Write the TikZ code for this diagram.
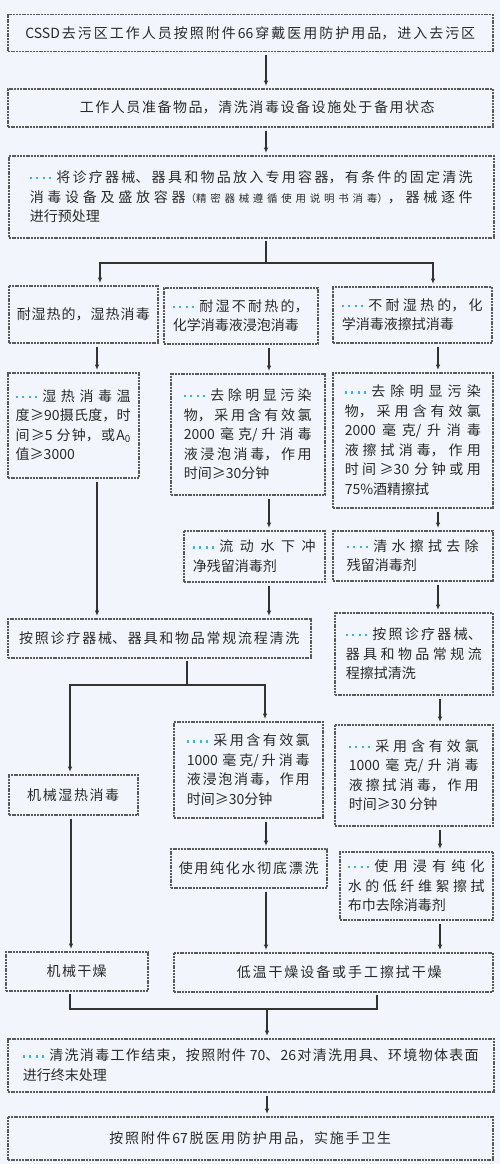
\documentclass[tikz,border=0pt]{standalone}
\usepackage{fontspec}
\setmainfont{Noto Sans CJK SC}
\usetikzlibrary{arrows.meta}
\XeTeXlinebreaklocale "zh"
\XeTeXlinebreakskip=0pt plus 3pt
\tolerance=10000
\hbadness=10000
\definecolor{bgc}{HTML}{F2F6FC}
\definecolor{bordc}{HTML}{5A5A5A}
\definecolor{linec}{HTML}{333333}
\definecolor{txtc}{HTML}{2A2A2A}
\definecolor{dotblue}{HTML}{33B5F0}
\newcommand\onedot{\raisebox{3.3pt}{\rule{2.1pt}{2.1pt}}\hspace{4.3pt}}
\newcommand\bluedots{{\color{dotblue}\onedot\onedot\onedot\onedot}\hspace{1pt}}
\newcommand\smallpar[1]{{\fontsize{10.5}{19.5}\selectfont #1}}
\newcommand\ctext[2]{\parbox{#1pt}{\parfillskip=0pt\relax #2}}
\tikzset{
  box/.style={draw=bordc, line width=1.5pt, dash pattern=on 2pt off 0.8pt,
    text=txtc, inner ysep=2pt,
    font=\fontsize{14}{19.5}\selectfont},
  ln/.style={draw=linec, line width=1.2pt},
  arr/.style={ln, -{Latex[length=5.5pt,width=4.5pt]}, shorten >=2pt},
  arrb/.style={arr, shorten <=3pt}
}
\newcommand\bnode[8]{%
  \pgfmathsetmacro\bxw{#4-#2}\pgfmathsetmacro\bxh{#5-#3}\pgfmathsetmacro\bxt{#4-#2-2*#6}%
  \node[box, anchor=north west, minimum width=\bxw pt, minimum height=\bxh pt,
    inner xsep=#6pt, text width=\bxt pt, align=#7] (#1) at (#2,#3) {#8};}
\begin{document}
\begin{tikzpicture}[x=1pt,y=-1pt]
\fill[bgc] (0,0) rectangle (500,1164);
\useasboundingbox (0,0) rectangle (500,1164);

\bnode{b1}{7}{14}{492}{51}{8}{flush center}{\ctext{450}{CSSD去污区工作人员按照附件66穿戴医用防护用品，进入去污区}}
\bnode{b2}{7}{88}{492}{126}{10}{flush center}{\hspace*{14pt}\ctext{355}{工作人员准备物品，清洗消毒设备设施处于备用状态}}
\bnode{b3}{8}{155}{493}{237}{21}{justify}{\bluedots 将诊疗器械、器具和物品放入专用容器，有条件的固定清洗\linebreak 消毒设备及盛放容器\smallpar{（精密器械遵循使用说明书消毒）}，器械逐件\linebreak 进行预处理}

\bnode{L1}{8}{285}{157}{342}{4}{flush center}{\ctext{133}{耐湿热的，湿热消毒}}
\bnode{M1}{163}{287}{317}{343}{9}{justify}{\bluedots 耐湿不耐热的，\linebreak 化学消毒液浸泡消毒}
\bnode{R1}{332}{286}{491}{342}{9}{justify}{\bluedots 不耐湿热的，化\linebreak 学消毒液擦拭消毒}

\bnode{L2}{7}{372}{138}{477}{8}{justify}{\bluedots 湿热消毒温\linebreak 度≥90摄氏度，时\linebreak 间≥5 分钟，或A\textsubscript{0}\linebreak 值≥3000}
\bnode{M2}{170}{373}{324}{494}{13}{justify}{\bluedots 去除明显污染\linebreak 物，采用含有效氯\linebreak 2000 毫克/升消毒\linebreak 液浸泡消毒，作用\linebreak 时间≥30分钟}
\bnode{R2}{332}{372}{492}{507}{12}{justify}{\bluedots 去除明显污染\linebreak 物，采用含有效氯\linebreak 2000 毫克/升消毒\linebreak 液擦拭消毒，作用\linebreak 时间≥30 分钟或用\linebreak 75\%酒精擦拭}

\bnode{M3}{183}{530}{324}{581}{9}{justify}{\bluedots 流动水下冲\linebreak 净残留消毒剂}
\bnode{R3}{332}{530}{492}{580}{14}{justify}{\bluedots 清水擦拭去除\linebreak 残留消毒剂}

\bnode{C}{7}{618}{310}{657}{6}{flush center}{\ctext{280}{按照诊疗器械、器具和物品常规流程清洗}}
\bnode{R4}{334}{612}{492}{694}{11}{justify}{\bluedots 按照诊疗器械、\linebreak 器具和物品常规流\linebreak 程擦拭清洗}

\bnode{L3}{8}{774}{137}{814}{6}{flush center}{\ctext{92}{机械湿热消毒}}
\bnode{M4}{173}{721}{322}{817}{13}{justify}{\bluedots 采用含有效氯\linebreak 1000 毫克/升消毒\linebreak 液浸泡消毒，作用\linebreak 时间≥30分钟}
\bnode{R5}{334}{724}{492}{825}{14}{justify}{\bluedots 采用含有效氯\linebreak 1000 毫克/升消毒\linebreak 液擦拭消毒，作用\linebreak 时间≥30 分钟}

\bnode{M5}{170}{848}{326}{887}{5}{flush center}{\ctext{140}{使用纯化水彻底漂洗}}
\bnode{R6}{339}{851}{492}{919}{8}{justify}{\bluedots 使用浸有纯化\linebreak 水的低纤维絮擦拭\linebreak 布巾去除消毒剂}

\bnode{L4}{5}{951}{147}{990}{6}{flush center}{\ctext{60}{机械干燥}}
\bnode{M6}{173}{952}{492}{991}{8}{flush center}{\hspace*{12pt}\ctext{205}{低温干燥设备或手工擦拭干燥}}

\bnode{E1}{7}{1038}{493}{1091}{15}{justify}{\bluedots 清洗消毒工作结束，按照附件 70、26对清洗用具、环境物体表面\linebreak 进行终末处理}
\bnode{E2}{7}{1116}{492}{1159}{10}{flush center}{\ctext{282}{按照附件67脱医用防护用品，实施手卫生}}

% column x positions
\coordinate (xa) at (266,0);
\coordinate (xL) at (97,0);
\coordinate (xM) at (269,0);
\coordinate (xR) at (438,0);
\coordinate (xL2) at (71,0);
\coordinate (xR2) at (440,0);

\draw[arrb] (b1.south -| xa) -- (b2.north -| xa);
\draw[arrb] (b2.south -| xa) -- (b3.north -| xa);

% fork 1
\coordinate (f1) at (266,263);
\coordinate (f1l) at (100,263);
\coordinate (f1r) at (433,263);
\draw[ln, shorten <=2pt] (b3.south -| f1) -- (f1);
\draw[arr] (f1) -- (f1l) -- (L1.north -| f1l);
\draw[arr] (f1) -- (f1r) -- (R1.north -| f1r);

\draw[arrb] (L1.south -| xL) -- (L2.north -| xL);
\draw[arrb] (M1.south -| xM) -- (M2.north -| xM);
\draw[arrb] (R1.south -| xR) -- (R2.north -| xR);

\draw[arrb] (L2.south -| xL) -- (C.north -| xL);
\draw[arrb] (M2.south -| xM) -- (M3.north -| xM);
\draw[arrb] (M3.south -| xM) -- (C.north -| xM);
\draw[arrb] (R2.south -| xR) -- (R3.north -| xR);
\draw[arrb] (R3.south -| xR) -- (R4.north -| xR);

% fork 2
\coordinate (f2) at (187,685);
\coordinate (f2l) at (70,685);
\coordinate (f2r) at (265,685);
\draw[ln, shorten <=2pt] (C.south -| f2) -- (f2);
\draw[arr] (f2) -- (f2l) -- (L3.north -| f2l);
\draw[arr] (f2) -- (f2r) -- (M4.north -| f2r);

\draw[arrb] (R4.south -| xR2) -- (R5.north -| xR2);
\draw[arrb] (M4.south -| xa) -- (M5.north -| xa);
\draw[arrb] (R5.south -| xR2) -- (R6.north -| xR2);

\draw[arrb] (L3.south -| xL2) -- (L4.north -| xL2);
\draw[arrb] (M5.south -| xa) -- (M6.north -| xa);
\draw[arrb] (R6.south -| xR2) -- (M6.north -| xR2);

% join
\coordinate (j1) at (70,1009);
\coordinate (j2) at (377,1009);
\coordinate (jm) at (267,1009);
\draw[ln, shorten <=2pt, shorten >=2pt] (L4.south -| j1) -- (j1) -- (j2) -- (M6.south -| j2);
\draw[arr] (jm) -- (E1.north -| jm);
\draw[arrb] (E1.south -| jm) -- (E2.north -| jm);
\end{tikzpicture}
\end{document}
